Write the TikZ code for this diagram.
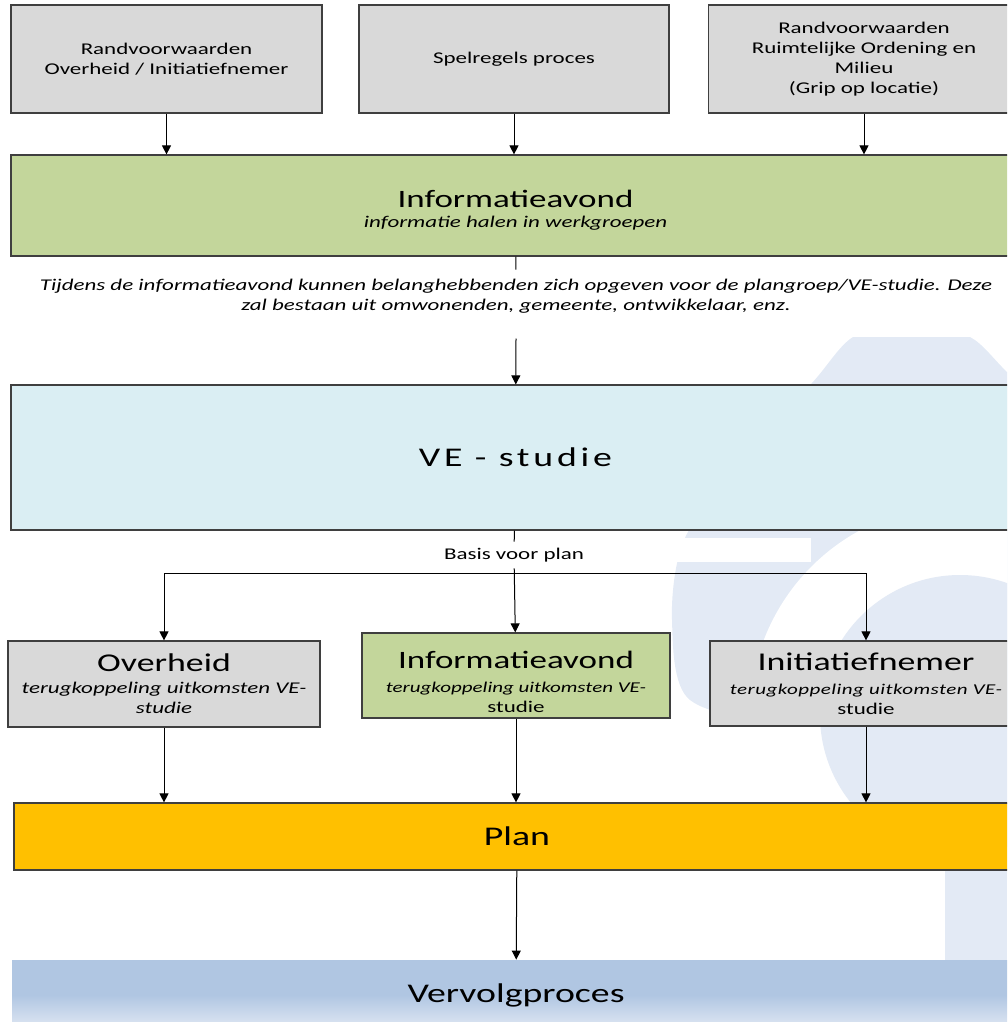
\documentclass[tikz,border=0pt]{standalone}
\usepackage{fontspec}
\setmainfont{Carlito}[FakeStretch=1.4]
\usetikzlibrary{arrows.meta,positioning}
\definecolor{edge}{HTML}{3F3F3F}
\definecolor{grey}{HTML}{D9D9D9}
\definecolor{olive}{HTML}{C3D69B}
\definecolor{pale}{HTML}{DAEEF3}
\definecolor{amber}{HTML}{FFC000}
\definecolor{vervtop}{HTML}{B0C6E2}
\definecolor{vervbot}{HTML}{E2E9F4}
\definecolor{wmark}{HTML}{E3EAF5}
\begin{document}
\begin{tikzpicture}[x=0.5pt, y=-0.5pt,
      box/.style={draw=edge, line width=0.6pt, align=center, inner sep=2pt,
         font=\fontsize{8.2}{10}\selectfont},
      big/.style={font=\fontsize{13.5}{16}\selectfont},
      feed/.style={-{Triangle[length=4.5pt, width=4.5pt]}, line width=0.5pt}]
   \useasboundingbox (0,0) rectangle (1007,1022);
   \clip (0,0) rectangle (1007,1022);
   \begin{scope}
      \clip (0,337) rectangle (1007,1022);
      \fill[wmark] plot[smooth cycle] coordinates {(853,337) (812,383) (740,460) (684,540)
         (672,620) (690,700) (800,720) (1060,700) (1090,450) (1010,375) (970,337) (911,322)};
      \fill[white] (960,715) circle (210);
      \fill[wmark] (960,715) circle (140);
      \fill[white] (672,538) rectangle (811,562);
      \fill[wmark] (945,730) rectangle (1007,960);
   \end{scope}
   \node[box, fill=grey, minimum width=155.5pt, minimum height=54pt] (rand) at (166.5,59)
      {Randvoorwaarden\\Overheid / Initiatiefnemer};
   \node[box, fill=grey, minimum width=155pt, minimum height=54pt] (spel) at (514,59)
      {Spelregels proces};
   \node[box, fill=grey, minimum width=155.5pt, minimum height=54pt] (grip) at (864,59)
      {Randvoorwaarden\\Ruimtelijke Ordening en\\Milieu\\(Grip op locatie)};
   \node[box, fill=olive, minimum width=504.5pt, minimum height=50.5pt] (info) at (515.5,205.5)
      {{\fontsize{12.5}{14}\selectfont\rule{0pt}{13pt}Informatieavond}\\[0pt]\textit{informatie halen in werkgroepen}};
   \node[align=center, inner xsep=0pt, inner ysep=4.5pt, font=\fontsize{8.2}{10}\selectfont\itshape] (note) at (516,296)
      {Tijdens de informatieavond kunnen belanghebbenden zich opgeven voor de plangroep/VE-studie. Deze\\
       zal bestaan uit omwonenden, gemeente, ontwikkelaar, enz.};
   \node[box, fill=pale, minimum width=504.5pt, minimum height=72.5pt,
      font=\fontsize{13.5}{16}\selectfont\addfontfeature{LetterSpace=14}] (ve) at (515.5,457.5)
      {VE - studie};
   \node[font=\fontsize{8.2}{10}\selectfont, inner sep=3pt] (basis) at (514,555) {Basis voor plan};
   \coordinate (split) at (516,573);
   \node[box, fill=grey, minimum width=156pt, minimum height=43pt] (over) at (164,684)
      {{\fontsize{12.8}{14}\selectfont Overheid}\\[1pt]\textit{terugkoppeling uitkomsten VE-}\\\textit{studie}};
   \node[box, fill=olive, minimum width=154pt, minimum height=42.5pt] (mid) at (516,675.5)
      {{\fontsize{12.5}{14}\selectfont\rule{0pt}{15pt}Informatieavond}\\[2pt]
       \fontsize{7.5}{10}\selectfont\itshape terugkoppeling uitkomsten VE-\\studie};
   \node[box, fill=grey, minimum width=156pt, minimum height=42.5pt] (init) at (866,683.5)
      {{\fontsize{12.8}{14}\selectfont Initiatiefnemer}\\[2pt]
       \fontsize{7.5}{11}\selectfont\itshape\addfontfeature{LetterSpace=3}terugkoppeling uitkomsten VE-\\studie};
   \node[box, fill=amber, minimum width=503pt, minimum height=33.5pt, big] (plan) at (517,836.5)
      {Plan};
   \node[minimum width=504pt, minimum height=35pt, top color=vervtop, bottom color=vervbot,
      middle color=vervtop, big] (verv) at (516,995) {Vervolgproces};
   \foreach \u in {rand, spel, grip} {
      \draw[feed] (\u) -- (\u |- info.north);
   }
   \draw[line width=0.5pt] (info) -- (note);
   \draw[feed] ([yshift=-8pt]note.south) -- (ve);
   \draw[line width=0.5pt] (ve) -- (basis);
   \draw[feed] (basis) -- (mid);
   \draw[feed] (split) -| (over);
   \draw[feed] (split) -| (init);
   \foreach \u in {over, mid, init} {
      \draw[feed] (\u) -- (\u |- plan.north);
   }
   \draw[feed] (plan) -- (verv);
\end{tikzpicture}
\end{document}
